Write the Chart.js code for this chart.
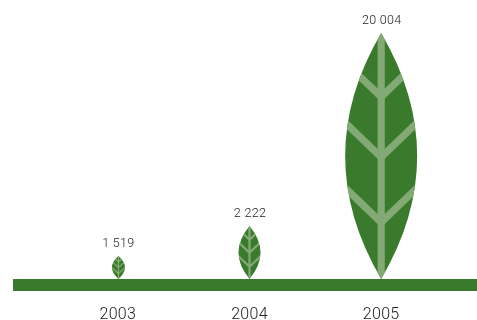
<!DOCTYPE html>
<html>
<head>
<meta charset="utf-8">
<style>
  html, body { margin: 0; padding: 0; background: #fff; }
  #wrap { width: 477px; height: 320px; }
</style>
<script src="https://cdn.jsdelivr.net/npm/chart.js@4/dist/chart.umd.min.js"></script>
</head>
<body>
<div id="wrap"><canvas id="leafChart"></canvas></div>
<script>
const years = ['2003', '2004', '2005'];
const values = [1519, 2222, 20004];
// leaves in the source are not to scale with the values, so heights are read off the picture
const leafHeights = [23, 53, 246];
const leafWidths = [13, 22, 72];

const green = '#3a7a2c';
const vein = '#83aa75';

function formatValue(v) {
  return String(v).replace(/\B(?=(\d{3})+$)/g, ' ');
}

function drawLeaf(ctx, x, top, bottom, width) {
  const h = bottom - top;
  ctx.save();
  ctx.beginPath();
  ctx.moveTo(x, top);
  ctx.quadraticCurveTo(x + width, top + h / 2, x, bottom);
  ctx.quadraticCurveTo(x - width, top + h / 2, x, top);
  ctx.closePath();
  ctx.fillStyle = green;
  ctx.fill();
  ctx.clip();

  ctx.strokeStyle = vein;
  ctx.lineWidth = width * 0.1;
  ctx.beginPath();
  ctx.moveTo(x, top);
  ctx.lineTo(x, bottom);
  [0.26, 0.505, 0.77].forEach(t => {
    const y = top + h * t;
    ctx.moveTo(x - width / 2, y - width * 0.48);
    ctx.lineTo(x, y);
    ctx.lineTo(x + width / 2, y - width * 0.48);
  });
  ctx.stroke();
  ctx.restore();
}

const leafPlugin = {
  id: 'leaves',
  beforeDraw(chart) {
    // the reference text is a little more open than Roboto
    chart.ctx.letterSpacing = '0.3px';
  },
  beforeDatasetsDraw(chart) {
    const ctx = chart.ctx;
    const base = chart.scales.y.getPixelForValue(0);
    ctx.save();
    ctx.fillStyle = green;
    ctx.fillRect(13, base, chart.width - 13, 12);
    ctx.restore();
  },
  afterDatasetsDraw(chart) {
    const ctx = chart.ctx;
    chart.getDatasetMeta(0).data.forEach((bar, i) => {
      drawLeaf(ctx, bar.x + (i === 0 ? 0.6 : 0), bar.y, bar.base, leafWidths[i]);
      ctx.save();
      ctx.fillStyle = '#222';
      ctx.font = '300 12.5px Roboto';
      ctx.textAlign = 'center';
      ctx.textBaseline = 'middle';
      ctx.fillText(formatValue(values[i]), bar.x + 0.5, bar.y - 12.5);
      ctx.restore();
    });
  }
};

new Chart(document.getElementById('leafChart'), {
  type: 'bar',
  data: {
    labels: years,
    datasets: [{ data: leafHeights, backgroundColor: 'rgba(0,0,0,0)' }]
  },
  options: {
    responsive: true,
    maintainAspectRatio: false,
    animation: false,
    layout: { padding: { left: 52, right: 30, top: 0, bottom: 0 } },
    plugins: { legend: { display: false }, tooltip: { enabled: false } },
    scales: {
      x: {
        grid: { display: false },
        border: { display: false },
        afterFit(scale) { scale.height = 41; },
        ticks: { color: '#222', font: { family: 'Roboto', size: 16, weight: '300' }, padding: 18, maxRotation: 0 }
      },
      y: { display: false, min: 0, max: 279 }
    }
  },
  plugins: [leafPlugin]
});
</script>
</body>
</html>
